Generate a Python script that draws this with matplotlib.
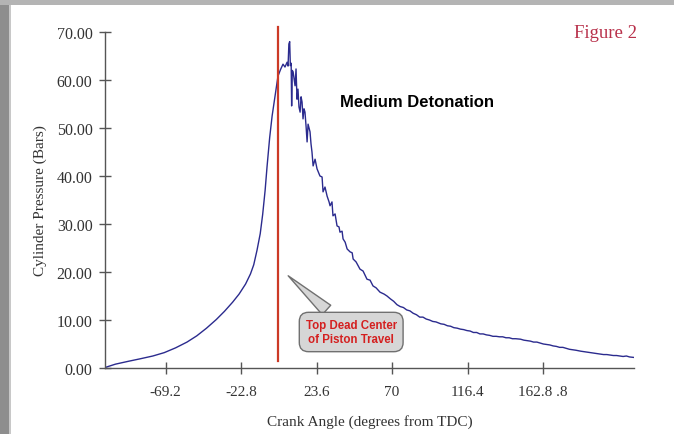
import matplotlib
matplotlib.use("Agg")
import matplotlib.pyplot as plt
from matplotlib.patches import Rectangle

# ---- data ----
crank_deg = [-106.4, -100, -92, -85, -77, -70, -63, -56, -50, -44, -38, -33, -28, -24,
             -20, -17, -15, -13, -11, -9.5, -8, -6.8, -5.2, -3.7, -1.9, -0.1, 1.5, 3.0,
             4.2, 5.5, 6.1, 6.6, 7.1, 7.5, 8.0, 8.3, 8.7, 9.2, 9.8, 10.4, 11.0, 11.6,
             12.2, 12.8, 13.5, 14.1, 14.7, 15.3, 15.9, 16.5, 17.2, 17.8, 18.4, 19.6,
             20.2, 20.8, 21.5, 22.7, 23.9, 25.2, 25.7, 27.0, 27.6, 28.8, 30.1, 31.3,
             31.9, 33.1, 33.7, 35.0, 36.2, 37.4, 38.0, 39.3, 39.9, 41.2, 42.4, 44.2,
             45.5, 46.1, 47.9, 50.3, 52.2, 54.6, 56.5, 58.3, 60.2, 62.6, 65.1, 66.9,
             69, 71, 73, 75, 77, 79, 81, 83, 85, 87, 89, 91, 93, 95, 97, 100, 102, 104,
             106, 108, 110, 112, 114, 116, 118, 120, 122, 124, 126, 128, 130, 132, 134,
             136, 138, 140, 142, 144, 146, 149, 151, 153, 155, 157, 159, 161, 163, 165,
             167, 169, 171, 173, 175, 177, 179, 181, 183, 186, 188, 190, 192, 194, 196,
             198, 200, 202, 204, 206, 208, 210, 212, 214, 216, 218.7]
pressure_bar = [0.1, 0.8, 1.4, 1.9, 2.5, 3.2, 4.2, 5.4, 6.7, 8.3, 10.1, 11.8, 13.7, 15.4,
                17.5, 19.6, 21.5, 24.5, 28.0, 32.0, 37.0, 42.0, 48.0, 52.5, 56.7, 60.8,
                62.2, 63.3, 62.7, 63.7, 62.9, 67.5, 68.0, 63.0, 63.5, 54.6, 62.0, 61.7,
                60.2, 58.8, 62.3, 56.0, 58.1, 54.4, 53.3, 56.5, 55.4, 51.9, 54.0, 53.3,
                50.2, 47.1, 50.8, 49.2, 46.7, 45.0, 42.1, 43.5, 41.5, 40.4, 40.0, 39.8,
                36.7, 37.7, 35.8, 34.6, 33.8, 34.6, 31.7, 32.1, 29.6, 29.4, 28.3, 28.5,
                26.9, 26.2, 24.8, 24.2, 24.0, 22.7, 22.1, 20.6, 20.2, 18.5, 18.3, 17.1,
                16.7, 15.8, 15.4, 15.0, 14.4, 13.9, 13.2, 12.8, 12.6, 12.1, 11.9, 11.4,
                11.1, 10.6, 10.6, 10.2, 10.0, 9.7, 9.6, 9.2, 9.1, 8.8, 8.7, 8.4, 8.3,
                8.1, 8.0, 7.8, 7.7, 7.4, 7.4, 7.1, 7.1, 6.9, 6.8, 6.6, 6.6, 6.5, 6.5,
                6.3, 6.3, 6.1, 6.1, 6.0, 5.8, 5.7, 5.6, 5.4, 5.4, 5.2, 5.0, 4.9, 4.8,
                4.6, 4.5, 4.3, 4.3, 4.1, 3.9, 3.8, 3.7, 3.5, 3.4, 3.3, 3.2, 3.1, 3.0,
                2.9, 2.8, 2.8, 2.7, 2.6, 2.6, 2.5, 2.4, 2.5, 2.3, 2.2]
x_tick_pos = [-69.2, -22.8, 23.6, 70, 116.4, 162.8]
x_tick_labels = ["-69.2", "-22.8", "23.6", "70", "116.4", "162.8 .8"]
y_ticks = [0, 10, 20, 30, 40, 50, 60, 70]
tdc_deg = 0

serif = ["Liberation Serif", "DejaVu Serif"]
sans = ["Liberation Sans", "DejaVu Sans"]

fig = plt.figure(figsize=(6.74, 4.35), dpi=100)
fig.patch.set_facecolor("white")

# page frame (gray top bar and left bar)
fig.add_artist(Rectangle((0, 1 - 6 / 435), 1, 6 / 435, transform=fig.transFigure,
                         facecolor="#b4b4b4", edgecolor="none"))
fig.add_artist(Rectangle((0, 0), 9 / 674, 1 - 6 / 435, transform=fig.transFigure,
                         facecolor="#8e8e8e", edgecolor="none"))
fig.add_artist(Rectangle((9 / 674, 0), 2 / 674, 1 - 6 / 435, transform=fig.transFigure,
                         facecolor="#c8c8c8", edgecolor="none"))

ax = fig.add_axes([105 / 674, 1 - 369 / 435, (634 - 105) / 674, (369 - 33) / 435])
ax.set_facecolor("white")
ax.plot(crank_deg, pressure_bar, color="#2b2b8e", lw=1.0)
ax.plot([tdc_deg, tdc_deg], [1.5, 71.0], color="#cc3a26", lw=1.6, clip_on=False)

ax.set_xlim(-106.4, 218.7)
ax.set_ylim(0, 70)
for s in ["top", "right"]:
    ax.spines[s].set_visible(False)
for s in ["left", "bottom"]:
    ax.spines[s].set_color("#555555")
    ax.spines[s].set_linewidth(1.0)

ax.set_xticks(x_tick_pos)
ax.set_xticklabels(x_tick_labels, fontfamily=serif, fontsize=11, color="#333333")
ax.set_yticks(y_ticks)
ax.set_yticklabels([f"{v:.2f}" for v in y_ticks], fontfamily=serif, fontsize=11.5,
                   color="#333333")
ax.tick_params(direction="inout", length=8, width=1.0, color="#555555")
ax.tick_params(axis="y", pad=5)
ax.tick_params(axis="x", pad=8)

ax.set_xlabel("Crank Angle (degrees from TDC)", fontfamily=serif, fontsize=11,
              color="#333333", labelpad=12)
ax.set_ylabel("Cylinder Pressure (Bars)", fontfamily=serif, fontsize=11,
              color="#333333", labelpad=7)

ax.text(85.5, 55.6, "Medium Detonation", fontfamily=sans, fontweight="bold",
        fontsize=12, ha="center", va="center", color="black")

ax.annotate("Top Dead Center\nof Piston Travel", xy=(4.9, 19.6), xytext=(44.9, 7.5),
            ha="center", va="center", fontfamily=sans, fontweight="bold",
            fontsize=8.3, color="#d42020", linespacing=1.3,
            bbox=dict(boxstyle="round,pad=0.55,rounding_size=0.8", fc="#d6d6d6",
                      ec="#707070", lw=1.0),
            arrowprops=dict(arrowstyle="wedge,tail_width=1.1,shrink_factor=0.5",
                            fc="#d6d6d6", ec="#707070", lw=1.0))

fig.text(605 / 674, 1 - 34 / 435, "Figure 2", fontfamily=serif, fontsize=13.5,
         color="#b8304a", ha="center", va="center")

fig.savefig("out.png", dpi=100)
